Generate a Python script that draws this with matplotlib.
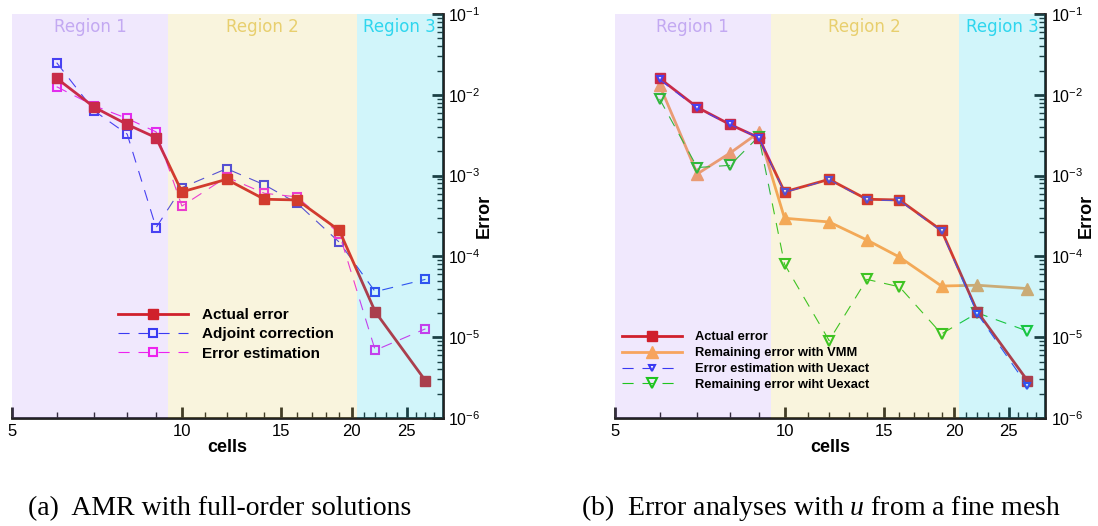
import matplotlib
matplotlib.use('Agg')
import matplotlib.pyplot as plt
import matplotlib.transforms as mtransforms
from matplotlib.ticker import FixedLocator, NullFormatter, LogLocator

plt.rcParams['font.family'] = ['Liberation Sans', 'DejaVu Sans']
plt.rcParams['mathtext.fontset'] = 'custom'
plt.rcParams['mathtext.rm'] = 'Liberation Sans'
plt.rcParams['mathtext.it'] = 'Liberation Serif:italic'

# data
cells = [6, 7, 8, 9, 10, 12, 14, 16, 19, 22, 27]
actual_error = [1.6e-2, 7.0e-3, 4.3e-3, 2.95e-3, 6.3e-4, 9.0e-4, 5.1e-4, 5.0e-4, 2.1e-4, 2.07e-5, 2.9e-6]
adjoint_corr = [2.5e-2, 6.3e-3, 3.26e-3, 2.27e-4, 7.1e-4, 1.22e-3, 7.7e-4, 4.55e-4, 1.5e-4, 3.66e-5, 5.2e-5]
error_est = [1.26e-2, 7.3e-3, 5.1e-3, 3.48e-3, 4.2e-4, 9.6e-4, 6.05e-4, 5.45e-4, 1.92e-4, 6.9e-6, 1.27e-5]
remain_vmm = [1.32e-2, 1.05e-3, 1.9e-3, 3.42e-3, 2.97e-4, 2.67e-4, 1.6e-4, 9.8e-5, 4.3e-5, 4.4e-5, 4.0e-5]
est_uexact = [1.55e-2, 6.8e-3, 4.3e-3, 2.95e-3, 6.2e-4, 8.9e-4, 5.0e-4, 4.9e-4, 2.05e-4, 1.95e-5, 2.5e-6]
remain_uexact = [8.9e-3, 1.26e-3, 1.34e-3, 3.05e-3, 8.0e-5, 9.1e-6, 5.2e-5, 4.2e-5, 1.1e-5, 2.0e-5, 1.19e-5]

region_edges = [5, 9.45, 20.4, 29]
region_names = ['Region 1', 'Region 2', 'Region 3']
region_fill = [(0.62, 0.42, 0.95), (0.88, 0.76, 0.22), (0.0, 0.8, 0.9)]
region_alpha = [0.15, 0.17, 0.18]
region_text = ['#c3a9f2', '#e8cf6e', '#2fd6ee']

red = '#d0202c'
blue = '#3a3af2'
magenta = '#ee22ee'
orange = '#f7a45e'
green = '#1ec41e'
dash = (0, (10, 8))

fig = plt.figure(figsize=(10.98, 5.26), dpi=100)
ax1 = fig.add_axes([0.0109, 0.2053, 0.3925, 0.768])
ax2 = fig.add_axes([0.5601, 0.2053, 0.3916, 0.768])


def style_axes(ax):
    ax.set_xscale('log')
    ax.set_yscale('log')
    ax.set_xlim(5, 29)
    ax.set_ylim(1e-6, 1e-1)
    for i in range(3):
        ax.axvspan(region_edges[i], region_edges[i + 1], color=region_fill[i],
                   alpha=region_alpha[i], lw=0, zorder=5)
        xc = (region_edges[i] * region_edges[i + 1]) ** 0.5
        trans = mtransforms.blended_transform_factory(ax.transData, ax.transAxes)
        ax.text(xc, 0.968, region_names[i], transform=trans, ha='center', va='center',
                color=region_text[i], fontsize=12, family='DejaVu Sans', zorder=6)
    ax.spines['left'].set_visible(False)
    ax.spines['top'].set_visible(False)
    ax.spines['right'].set_linewidth(2)
    ax.spines['bottom'].set_linewidth(2)
    ax.spines['right'].set_color('#222222')
    ax.spines['bottom'].set_color('#222222')
    ax.xaxis.set_major_locator(FixedLocator([5, 10, 15, 20, 25]))
    ax.xaxis.set_minor_locator(FixedLocator([6, 7, 8, 9, 11, 12, 13, 14, 16, 17, 18, 19,
                                             21, 22, 23, 24, 26, 27, 28]))
    ax.xaxis.set_major_formatter(plt.FuncFormatter(lambda v, p: '%d' % v))
    ax.xaxis.set_minor_formatter(NullFormatter())
    ax.yaxis.set_major_locator(LogLocator(base=10, numticks=10))
    ax.yaxis.set_minor_locator(LogLocator(base=10, subs=range(2, 10), numticks=10))
    ax.yaxis.set_minor_formatter(NullFormatter())
    ax.yaxis.tick_right()
    ax.yaxis.set_label_position('right')
    ax.tick_params(axis='both', which='both', direction='in', colors='#222222',
                   labelcolor='black', labelsize=12)
    ax.tick_params(axis='y', labelsize=11.5)
    ax.tick_params(which='major', length=8, width=2)
    ax.tick_params(which='minor', length=4, width=1)
    ax.tick_params(axis='x', pad=4)
    ax.tick_params(axis='y', left=False, right=True, pad=4)
    ax.set_xlabel('cells', fontsize=13, fontweight='bold', labelpad=0)
    ax.set_ylabel('Error', fontsize=13, fontweight='bold', rotation=90, va='center')
    ax.yaxis.set_label_coords(1.095, 0.5)


style_axes(ax1)
style_axes(ax2)

# panel (a)
ax1.plot(cells, actual_error, color=red, lw=2, marker='s', ms=7.5, mec=red, mfc=red,
         label='Actual error', zorder=3)
ax1.plot(cells, adjoint_corr, color=blue, lw=0.8, ls=dash, marker='s', ms=5.5,
         mfc='none', mec=blue, mew=1.5, label='Adjoint correction', zorder=2)
ax1.plot(cells, error_est, color=magenta, lw=0.8, ls=dash, marker='s', ms=5.5,
         mfc='none', mec=magenta, mew=1.5, label='Error estimation', zorder=2)
leg1 = ax1.legend(loc='upper left', bbox_to_anchor=(0.246, 0.272), frameon=False,
                  prop={'weight': 'bold', 'size': 11}, handlelength=4.6,
                  handletextpad=0.9, labelspacing=0.35, borderpad=0, borderaxespad=0)
leg1.set_zorder(10)

# panel (b)
ax2.plot(cells, actual_error, color=red, lw=2, marker='s', ms=7.5, mec=red, mfc=red,
         label='Actual error', zorder=3)
ax2.plot(cells, remain_vmm, color=orange, lw=2, marker='^', ms=8.5, mec=orange, mfc=orange,
         label='Remaining error with VMM', zorder=2)
ax2.plot(cells, est_uexact, color=blue, lw=0.8, ls=dash, marker='v', ms=5,
         mfc='white', mec=blue, mew=1.5, label='Error estimation with Uexact', zorder=4)
ax2.plot(cells, remain_uexact, color=green, lw=0.8, ls=dash, marker='v', ms=6.5,
         mfc='none', mec=green, mew=1.5, label='Remaining error wiht Uexact', zorder=2)
leg2 = ax2.legend(loc='upper left', bbox_to_anchor=(0.017, 0.215), frameon=False,
                  prop={'weight': 'bold', 'size': 9.3}, handlelength=4.6,
                  handletextpad=1.0, labelspacing=0.3, borderpad=0, borderaxespad=0)
leg2.set_zorder(10)

fig.text(0.2, 0.034, '(a)  AMR with full-order solutions', ha='center', va='center',
         family='Liberation Serif', fontsize=20)
fig.text(0.748, 0.034, '(b)  Error analyses with $u$ from a fine mesh', ha='center',
         va='center', family='Liberation Serif', fontsize=20)

fig.savefig('out.png', dpi=100)
